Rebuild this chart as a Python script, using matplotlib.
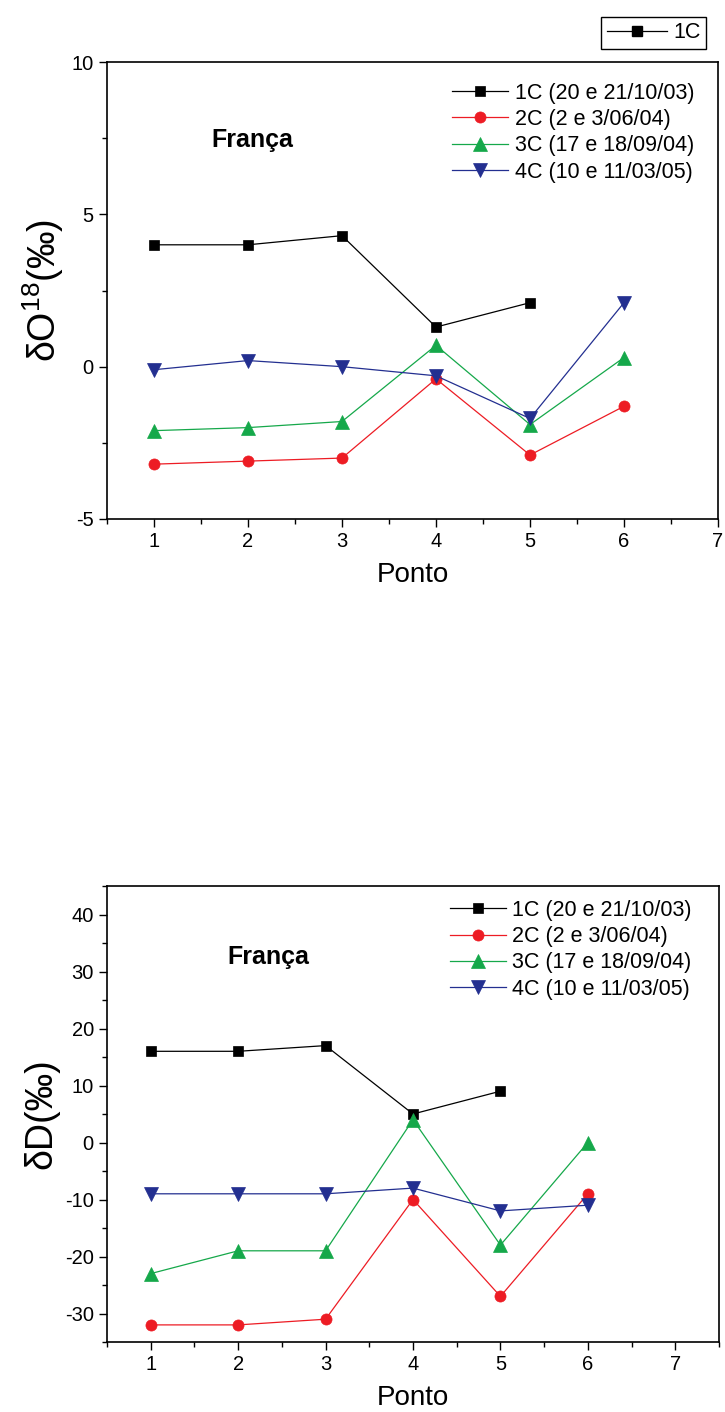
import matplotlib.pyplot as plt
from matplotlib.ticker import MultipleLocator
from matplotlib.lines import Line2D

plt.rcParams['font.family'] = ['Liberation Sans', 'DejaVu Sans']
plt.rcParams['axes.unicode_minus'] = False
plt.rcParams['mathtext.fontset'] = 'custom'
plt.rcParams['mathtext.rm'] = 'Liberation Sans'
plt.rcParams['mathtext.it'] = 'Liberation Sans:italic'

pontos = [1, 2, 3, 4, 5, 6]
labels = ["1C (20 e 21/10/03)", "2C (2 e 3/06/04)", "3C (17 e 18/09/04)", "4C (10 e 11/03/05)"]

# delta O18 (per mil)
o18_1c = [4.0, 4.0, 4.3, 1.3, 2.1]
o18_2c = [-3.2, -3.1, -3.0, -0.4, -2.9, -1.3]
o18_3c = [-2.1, -2.0, -1.8, 0.7, -1.9, 0.3]
o18_4c = [-0.1, 0.2, 0.0, -0.3, -1.7, 2.1]

# delta D (per mil)
d_1c = [16, 16, 17, 5, 9]
d_2c = [-32, -32, -31, -10, -27, -9]
d_3c = [-23, -19, -19, 4, -18, 0]
d_4c = [-9, -9, -9, -8, -12, -11]

cores = ["black", "#ed1c24", "#15a84a", "#232f90"]
marcas = ["s", "o", "^", "v"]
tamanhos = [7.5, 8, 9.5, 9.5]

fig = plt.figure(figsize=(7.25, 14.12), dpi=100)
ax1 = fig.add_axes([107/725, 1-519/1412, 611/725, 457/1412])
ax2 = fig.add_axes([107/725, 1-1342/1412, 612/725, 456/1412])


def desenha(ax, series, xlim, ylim, major, minor, ylabel, leg_pos, titulo_pos):
    for y, c, m, ms, lab in zip(series, cores, marcas, tamanhos, labels):
        ax.plot(pontos[:len(y)], y, color=c, marker=m, markersize=ms, lw=0.9,
                label=lab, markeredgewidth=0.5, markeredgecolor=c)
    ax.set_xlim(*xlim)
    ax.set_ylim(*ylim)
    ax.xaxis.set_major_locator(MultipleLocator(1))
    ax.xaxis.set_minor_locator(MultipleLocator(0.5))
    ax.yaxis.set_major_locator(MultipleLocator(major))
    ax.yaxis.set_minor_locator(MultipleLocator(minor))
    ax.tick_params(which="both", direction="out", top=False, right=False, labelsize=14.5, width=1)
    ax.tick_params(which="major", length=6)
    ax.tick_params(which="minor", length=3.5)
    for s in ax.spines.values():
        s.set_linewidth(1.2)
    ax.set_xlabel("Ponto", fontsize=20, labelpad=8)
    ax.set_ylabel(ylabel, fontsize=27, labelpad=4)
    ax.legend(loc="upper left", bbox_to_anchor=leg_pos, frameon=False, fontsize=15.5,
              handlelength=2.6, handletextpad=0.3, labelspacing=0.25, borderpad=0,
              borderaxespad=0)
    ax.text(titulo_pos[0], titulo_pos[1], "França", transform=ax.transAxes,
            fontsize=18, fontweight="bold", ha="center", va="center")


desenha(ax1, [o18_1c, o18_2c, o18_3c, o18_4c], (0.5, 7), (-5, 10), 5, 2.5,
        "δO$^{18}$(‰)", (0.565, 0.955), (0.238, 0.83))
desenha(ax2, [d_1c, d_2c, d_3c, d_4c], (0.5, 7.5), (-35, 45), 10, 5,
        "δD(‰)", (0.56, 0.97), (0.263, 0.845))

# separate key box at the top right
h = Line2D([], [], color="black", marker="s", markersize=7.5, lw=0.9)
fig.legend([h], ["1C"], loc="upper right", bbox_to_anchor=(706/725, 1-17/1412),
           fontsize=15.5, fancybox=False, edgecolor="black", framealpha=1,
           handlelength=2.8, handletextpad=0.3, borderpad=0.25, borderaxespad=0)

fig.savefig("out.png", dpi=100)
